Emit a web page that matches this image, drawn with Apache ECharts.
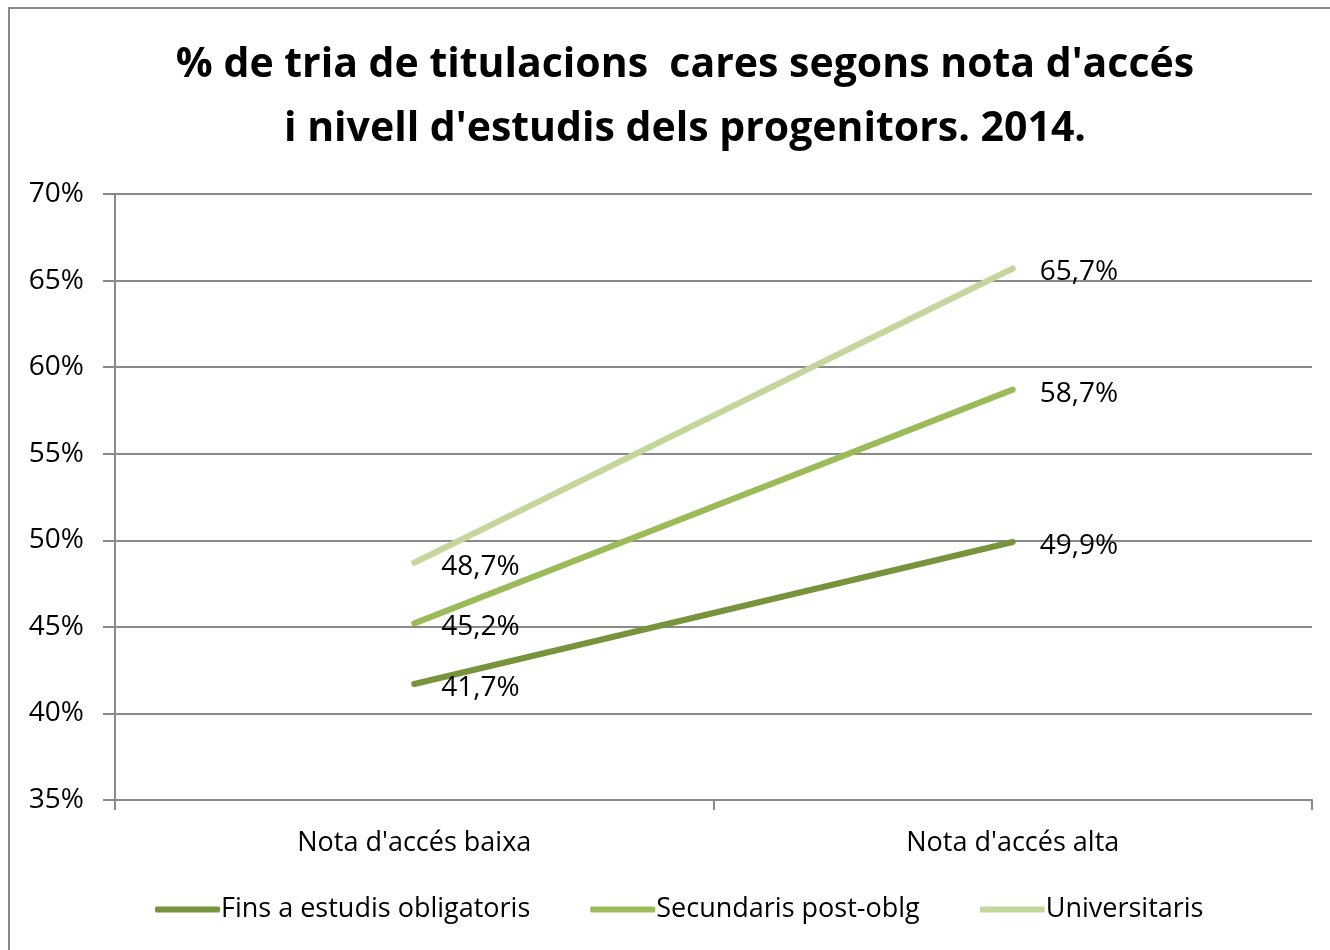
<!DOCTYPE html>
<html>
<head>
<meta charset="utf-8">
<script src="https://cdn.jsdelivr.net/npm/echarts@6/dist/echarts.min.js"></script>
<style>
  html, body { margin: 0; padding: 0; background: #fff; }
  #frame {
    position: absolute; left: 8px; top: 7px; width: 1400px; height: 1000px;
    border-left: 2px solid #8a8a8a; border-top: 2px solid #8a8a8a;
  }
  #chart { position: absolute; left: 0; top: 0; width: 1330px; height: 950px; }
</style>
</head>
<body>
<div id="frame"></div>
<div id="chart"></div>
<script>
// dades
const categories = ["Nota d'accés baixa", "Nota d'accés alta"];
const obligatoris = [41.7, 49.9];
const postOblg = [45.2, 58.7];
const universitaris = [48.7, 65.7];
const seriesNames = ["Fins a estudis obligatoris", "Secundaris post-oblg", "Universitaris"];
const colors = ["#77933c", "#9bbb59", "#c3d69b"];

const font = "'Open Sans', 'Liberation Sans', sans-serif";

function makeSeries(name, data, color) {
  return {
    name: name,
    type: "line",
    data: data,
    symbol: "circle",
    symbolSize: 0,
    showSymbol: true,
    lineStyle: { width: 6, color: color, cap: "round" },
    itemStyle: { color: color },
    label: {
      show: true,
      position: "right",
      distance: 27,
      offset: [0, 4],
      color: "#000",
      fontSize: 28,
      fontFamily: font,
      formatter: (p) => p.value.toFixed(1).replace(".", ",") + "%",
    },
  };
}

const chart = echarts.init(document.getElementById("chart"));
chart.setOption({
  animation: false,
  backgroundColor: "transparent",
  color: colors,
  title: {
    text: "% de tria de titulacions  cares segons nota d'accés\ni nivell d'estudis dels progenitors. 2014.",
    left: 680,
    top: 28,
    textAlign: "center",
    textStyle: {
      fontFamily: font,
      fontWeight: "bold",
      fontSize: 41,
      lineHeight: 64,
      color: "#000",
    },
  },
  grid: { left: 115, right: 18, top: 194, bottom: 150, containLabel: false },
  legend: {
    bottom: 22,
    left: 150,
    itemGap: 60,
    itemWidth: 65,
    itemHeight: 6,
    icon: "roundRect",
    textStyle: { fontFamily: font, fontSize: 27, color: "#000", padding: [0, 0, 0, -4] },
    data: seriesNames,
  },
  xAxis: {
    type: "category",
    data: categories,
    boundaryGap: true,
    axisLine: { lineStyle: { color: "#8a8a8a", width: 2 } },
    axisTick: { show: true, length: 10, lineStyle: { color: "#8a8a8a", width: 2 } },
    axisLabel: { color: "#000", fontSize: 27, fontFamily: font, margin: 30 },
  },
  yAxis: {
    type: "value",
    min: 35,
    max: 70,
    interval: 5,
    axisLine: { show: true, lineStyle: { color: "#8a8a8a", width: 2 } },
    axisTick: { show: true, length: 12, lineStyle: { color: "#8a8a8a", width: 2 } },
    splitLine: { lineStyle: { color: "#8a8a8a", width: 2 } },
    axisLabel: {
      color: "#000",
      fontSize: 28,
      fontFamily: font,
      margin: 31,
      formatter: "{value}%",
    },
  },
  series: [
    makeSeries(seriesNames[0], obligatoris, colors[0]),
    makeSeries(seriesNames[1], postOblg, colors[1]),
    makeSeries(seriesNames[2], universitaris, colors[2]),
  ],
});
</script>
</body>
</html>
